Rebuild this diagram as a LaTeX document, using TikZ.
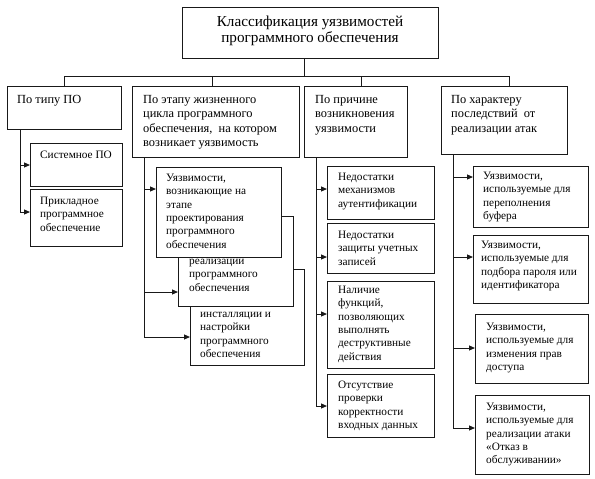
\documentclass[tikz,border=0pt]{standalone}
\usepackage{fontspec}
\setmainfont{Liberation Serif}
\usetikzlibrary{arrows.meta}
\begin{document}
\begin{tikzpicture}[x=1pt,y=-1pt,
 box/.style={draw=black!90, line width=1pt, fill=white, inner sep=0pt, anchor=north west},
 txt/.style={anchor=north west, inner sep=0pt, align=left, font=\fontsize{11.3}{13.3}\selectfont},
 hdr/.style={txt, font=\fontsize{12.4}{14.4}\selectfont},
 ttl/.style={inner sep=0pt, align=center, font=\fontsize{15.2}{16.5}\selectfont},
 conn/.style={draw=black!90, line width=1pt},
 arr/.style={conn, -{Triangle[length=6pt,width=5pt]}}]
\useasboundingbox (0,0) rectangle (595,479);
% title
\node[box, minimum width=256pt, minimum height=51pt] (title) at (182,7) {};
\node[ttl] (titletxt) at (310,31) {Классификация уязвимостей\\программного обеспечения};
% level 1
\node[box, minimum width=114pt, minimum height=43pt] (c1) at (7,86) {};
\node[hdr] (c1t) at (17,95) {По типу ПО};
\node[box, minimum width=167pt, minimum height=71pt] (c2) at (132,86) {};
\node[hdr] (c2t) at (143,95) {По этапу жизненного\\цикла программного\\обеспечения,\ \ на котором\\возникает уязвимость};
\node[box, minimum width=103pt, minimum height=71pt] (c3) at (304,86) {};
\node[hdr] (c3t) at (315,95) {По причине\\возникновения\\уязвимости};
\node[box, minimum width=126pt, minimum height=68pt] (c4) at (441,86) {};
\node[hdr] (c4t) at (451,95) {По характеру\\последствий\ \ от\\реализации атак};
% column 1
\node[box, minimum width=92pt, minimum height=43pt] (s1) at (30,143) {};
\node[txt] (s1t) at (40,151) {Системное ПО};
\node[box, minimum width=92pt, minimum height=57pt] (s2) at (30,189) {};
\node[txt] (s2t) at (40,197) {Прикладное\\программное\\обеспечение};
% column 2
\node[box, minimum width=114pt, minimum height=96pt] (eC) at (190,269) {};
\node[txt] (eCt) at (200,312) {инсталляции и\\настройки\\программного\\обеспечения};
\node[box, minimum width=115pt, minimum height=90pt] (eB) at (178,216) {};
\node[txt] (eBt) at (189,259) {реализации\\программного\\обеспечения};
\node[box, minimum width=125pt, minimum height=90pt] (eA) at (156,167) {};
\node[txt] (eAt) at (166,174) {Уязвимости,\\возникающие на\\этапе\\проектирования\\программного\\обеспечения};
% column 3
\node[box, minimum width=107pt, minimum height=53pt] (r1) at (327,166) {};
\node[txt] (r1t) at (338,173) {Недостатки\\механизмов\\аутентификации};
\node[box, minimum width=107pt, minimum height=50pt] (r2) at (327,223) {};
\node[txt] (r2t) at (338,231) {Недостатки\\защиты учетных\\записей};
\node[box, minimum width=107pt, minimum height=87pt] (r3) at (327,281) {};
\node[txt] (r3t) at (338,286) {Наличие\\функций,\\позволяющих\\выполнять\\деструктивные\\действия};
\node[box, minimum width=107pt, minimum height=63pt] (r4) at (327,374) {};
\node[txt] (r4t) at (338,381) {Отсутствие\\проверки\\корректности\\входных данных};
% column 4
\node[box, minimum width=115pt, minimum height=61pt] (k1) at (473,166) {};
\node[txt] (k1t) at (483,172) {Уязвимости,\\используемые для\\переполнения\\буфера};
\node[box, minimum width=115pt, minimum height=68pt] (k2) at (473,235) {};
\node[txt] (k2t) at (481,241) {Уязвимости,\\используемые для\\подбора пароля или\\идентификатора};
\node[box, minimum width=113pt, minimum height=69pt] (k3) at (475,314) {};
\node[txt] (k3t) at (486,323) {Уязвимости,\\используемые для\\изменения прав\\доступа};
\node[box, minimum width=114pt, minimum height=79pt] (k4) at (475,395) {};
\node[txt] (k4t) at (486,403) {Уязвимости,\\используемые для\\реализации атаки\\«Отказ в\\обслуживании»};
% bus
\coordinate (bus) at (0,76);
\draw[conn] ([xshift=-6pt]title.south) -- ([xshift=-6pt]title.south |- bus);
\draw[conn] ([xshift=0pt]c1.north |- bus) -- ([xshift=5pt]c4.north |- bus);
\draw[conn] (c1.north |- bus) -- (c1.north);
\draw[conn] ([xshift=-3.5pt]c2.north |- bus) -- ([xshift=-3.5pt]c2.north);
\draw[conn] ([xshift=5.5pt]c3.north |- bus) -- ([xshift=5.5pt]c3.north);
\draw[conn] ([xshift=5pt]c4.north |- bus) -- ([xshift=5pt]c4.north);
% column 1 connectors
\coordinate (j1a) at (20,165);
\coordinate (j1b) at (20,212);
\draw[conn] (c1.south west -| j1a) -- (j1b);
\draw[arr] (j1a) -- (j1a -| s1.west);
\draw[arr] (j1b) -- (j1b -| s2.west);
% column 2 connectors
\coordinate (j2a) at (144,189);
\coordinate (j2b) at (144,292);
\coordinate (j2c) at (144,337);
\draw[conn] (c2.south west -| j2a) -- (j2c);
\draw[arr] (j2a) -- (j2a -| eA.west);
\draw[arr] (j2b) -- (j2b -| eB.west);
\draw[arr] (j2c) -- (j2c -| eC.west);
% column 3 connectors
\coordinate (j3a) at (316,189);
\coordinate (j3b) at (316,257);
\coordinate (j3c) at (316,314);
\coordinate (j3d) at (316,406);
\draw[conn] (c3.south west -| j3a) -- (j3d);
\draw[arr] (j3a) -- (j3a -| r1.west);
\draw[arr] (j3b) -- (j3b -| r2.west);
\draw[arr] (j3c) -- (j3c -| r3.west);
\draw[arr] (j3d) -- (j3d -| r4.west);
% column 4 connectors
\coordinate (j4a) at (453,177);
\coordinate (j4b) at (453,257);
\coordinate (j4c) at (453,348);
\coordinate (j4d) at (453,428);
\draw[conn] (c4.south west -| j4a) -- (j4d);
\draw[arr] (j4a) -- (j4a -| k1.west);
\draw[arr] (j4b) -- (j4b -| k2.west);
\draw[arr] (j4c) -- (j4c -| k3.west);
\draw[arr] (j4d) -- (j4d -| k4.west);
\end{tikzpicture}
\end{document}
